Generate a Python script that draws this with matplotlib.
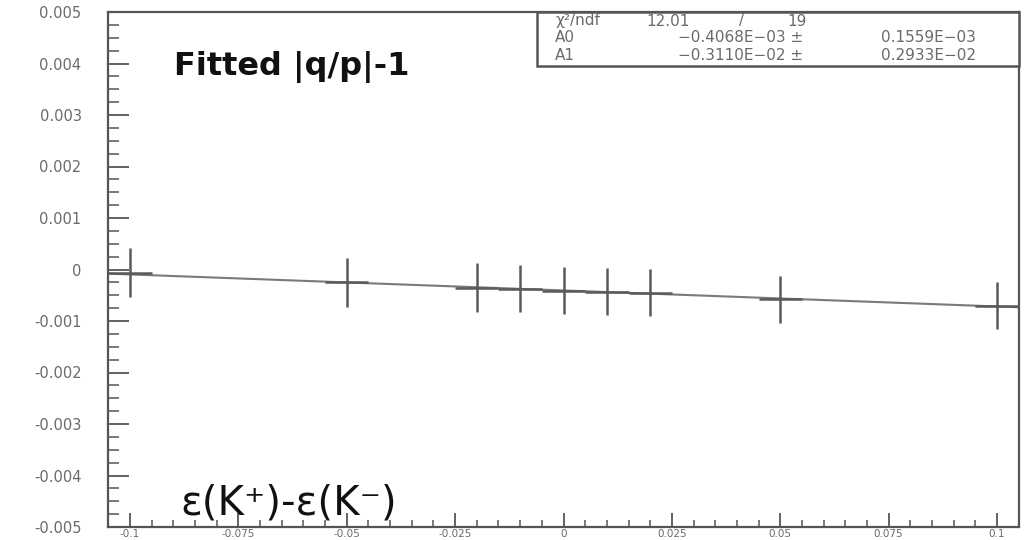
import matplotlib
matplotlib.use("Agg")
import matplotlib.pyplot as plt
import numpy as np
from matplotlib.ticker import MultipleLocator, FuncFormatter
from matplotlib.patches import Rectangle

plt.rcParams["axes.unicode_minus"] = False
plt.rcParams["font.family"] = ["DejaVu Sans"]

# measured asymmetry points
x_vals = [-0.1, -0.05, -0.02, -0.01, 0.0, 0.01, 0.02, 0.05, 0.1]
y_vals = [-0.00006, -0.00025, -0.00035, -0.00037, -0.00041, -0.00043, -0.00045, -0.00058, -0.00070]
y_errs = [0.00048, 0.00047, 0.00047, 0.00046, 0.00045, 0.00046, 0.00046, 0.00046, 0.00046]
x_errs = [0.005] * 9

# straight-line fit results
chi2, ndf = 12.01, 19
A0, A0_err = -0.4068e-03, 0.1559e-03
A1, A1_err = -0.3110e-02, 0.2933e-02

x_ticks = [-0.1, -0.075, -0.05, -0.025, 0.0, 0.025, 0.05, 0.075, 0.1]
y_ticks = [-0.005, -0.004, -0.003, -0.002, -0.001, 0.0, 0.001, 0.002, 0.003, 0.004, 0.005]

fig = plt.figure(figsize=(10.28, 5.40), dpi=100)
ax = fig.add_axes([108 / 1028, 13 / 540, 911 / 1028, 515 / 540])

xlo, xhi = -0.1051, 0.1051
ax.set_xlim(xlo, xhi)
ax.set_ylim(-0.005, 0.005)

# fit line across the whole range
xf = np.array([xlo, xhi])
ax.plot(xf, A0 + A1 * xf, color="#7a7a7a", lw=1.5, zorder=2)

ax.errorbar(x_vals, y_vals, yerr=y_errs, xerr=x_errs, fmt="none",
            ecolor="#5a5a5a", elinewidth=1.8, capsize=0, zorder=3)

for s in ax.spines.values():
    s.set_color("#555555")
    s.set_linewidth(1.6)

ax.set_xticks(x_ticks)
ax.set_yticks(y_ticks)
ax.xaxis.set_minor_locator(MultipleLocator(0.005))
ax.yaxis.set_minor_locator(MultipleLocator(0.00025))


def yfmt(v, pos):
    return "0" if abs(v) < 1e-12 else f"{v:.3f}"


def xfmt(v, pos):
    return "0" if abs(v) < 1e-12 else f"{v:g}"


ax.xaxis.set_major_formatter(FuncFormatter(xfmt))
ax.yaxis.set_major_formatter(FuncFormatter(yfmt))

ax.tick_params(axis="y", which="major", direction="in", length=15, width=1.3,
               color="#555555", labelcolor="#6a6a6a", labelsize=10.5, pad=19)
ax.tick_params(axis="y", which="minor", direction="in", length=8, width=1.1, color="#555555")
ax.tick_params(axis="x", which="major", direction="in", length=10, width=1.3,
               color="#555555", labelcolor="#6a6a6a", labelsize=7.5, pad=1.5)
ax.tick_params(axis="x", which="minor", direction="in", length=5, width=1.1, color="#555555")

# annotations
ax.text(174, 540 - 67, "Fitted |q/p|-1", transform=None, fontsize=23,
        fontweight="bold", color="#111111", va="center", ha="left")
ax.text(180, 540 - 503, "ε(K⁺)-ε(K⁻)", transform=None, fontsize=29,
        color="#111111", va="center", ha="left")

# fit statistics box
bx0 = (537 - 108) / 911
by0 = (527 - 66) / 515
ax.add_patch(Rectangle((bx0, by0), 1 - bx0, 1 - by0, transform=ax.transAxes,
                       facecolor="white", edgecolor="#555555", lw=1.8,
                       zorder=5, clip_on=False))

stat_kw = dict(transform=None, fontsize=11, color="#6a6a6a", va="center", zorder=6)
rows_y = [540 - 21, 540 - 38, 540 - 55]
ax.text(555, rows_y[0], "χ²/ndf", ha="left", **stat_kw)
ax.text(668, rows_y[0], f"{chi2:.2f}", ha="center", **stat_kw)
ax.text(742, rows_y[0], "/", ha="center", **stat_kw)
ax.text(797, rows_y[0], f"{ndf}", ha="center", **stat_kw)


def eform(v):
    # Fortran-style 0.dddd mantissa with two-digit exponent
    exp = int(np.floor(np.log10(abs(v)))) + 1
    mant = v / 10 ** exp
    sign = "−" if mant < 0 else ""
    es = f"−{abs(exp):02d}" if exp < 0 else f"+{exp:02d}"
    return f"{sign}0.{abs(round(mant * 1e4)):04d}E{es}"


for row, (name, val, err) in enumerate([("A0", A0, A0_err), ("A1", A1, A1_err)]):
    y = rows_y[row + 1]
    ax.text(555, y, name, ha="left", **stat_kw)
    ax.text(741, y, eform(val) + " ±", ha="center", **stat_kw)
    ax.text(928, y, eform(err), ha="center", **stat_kw)

fig.savefig("out.png", dpi=100, facecolor="white")
